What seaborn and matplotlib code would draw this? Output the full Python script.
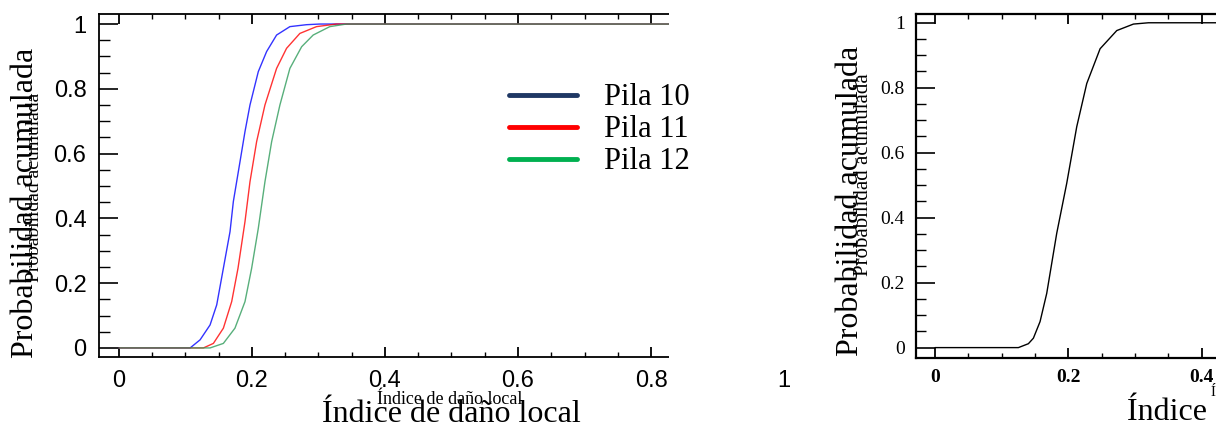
import matplotlib
matplotlib.use("Agg")
import matplotlib.pyplot as plt
from matplotlib.patches import Rectangle
from matplotlib.ticker import MultipleLocator
import seaborn as sns
import pandas as pd

# --- data (cumulative probability vs damage index) ---
x_pila10 = [0.0, 0.107, 0.122, 0.137, 0.147, 0.157, 0.167, 0.172, 0.182, 0.1895, 0.197,
            0.2095, 0.222, 0.237, 0.257, 0.282, 0.302, 1.0]
y_pila10 = [0.0, 0.0, 0.025, 0.071, 0.133, 0.246, 0.359, 0.452, 0.575, 0.668, 0.75,
            0.853, 0.915, 0.966, 0.992, 0.998, 1.0, 1.0]

x_pila11 = [0.0, 0.127, 0.142, 0.157, 0.1695, 0.179, 0.1895, 0.197, 0.207, 0.2195, 0.237,
            0.252, 0.272, 0.297, 0.327, 1.0]
y_pila11 = [0.0, 0.0, 0.014, 0.061, 0.143, 0.246, 0.39, 0.513, 0.637, 0.75, 0.863,
            0.925, 0.971, 0.992, 1.0, 1.0]

x_pila12 = [0.0, 0.137, 0.157, 0.1744, 0.1895, 0.1995, 0.2095, 0.2195, 0.2296, 0.242, 0.257,
            0.2747, 0.292, 0.317, 0.342, 1.0]
y_pila12 = [0.0, 0.0, 0.014, 0.061, 0.143, 0.246, 0.369, 0.513, 0.637, 0.75, 0.863,
            0.93, 0.966, 0.992, 1.0, 1.0]

x_total = [0.0, 0.125, 0.14, 0.1475, 0.1575, 0.1675, 0.1825, 0.1975, 0.2125, 0.2275, 0.2475,
           0.2725, 0.2975, 0.32, 1.0]
y_total = [0.0, 0.0, 0.012, 0.029, 0.08, 0.167, 0.352, 0.506, 0.68, 0.813, 0.92,
           0.976, 0.996, 1.0, 1.0]

pilas = ["Pila 10", "Pila 11", "Pila 12"]
curve_colors = ["#0000FF", "#FF0000", "#2E9B5A"]
legend_colors = ["#1F3864", "#FF0000", "#00B050"]

x_label = "Índice de daño local"
y_label = "Probabilidad acumulada"

df = pd.concat([
    pd.DataFrame({"x": x_pila10, "y": y_pila10, "Pila": pilas[0]}),
    pd.DataFrame({"x": x_pila11, "y": y_pila11, "Pila": pilas[1]}),
    pd.DataFrame({"x": x_pila12, "y": y_pila12, "Pila": pilas[2]}),
])
df_total = pd.DataFrame({"x": x_total, "y": y_total})

sns.set_style("ticks")
plt.rcParams["font.family"] = ["Liberation Serif", "DejaVu Serif"]
plt.rcParams.update({"axes.edgecolor": "black", "xtick.color": "black",
                     "ytick.color": "black", "text.color": "black",
                     "axes.labelcolor": "black"})

W, H = 1216, 436
fig = plt.figure(figsize=(W / 100, H / 100), dpi=100)

# --- left panel ---
ax = fig.add_axes([99 / W, 1 - 357 / H, 705 / W, 343 / H])
sns.lineplot(data=df, x="x", y="y", hue="Pila", palette=curve_colors,
             linewidth=1.0, alpha=0.8, ax=ax, sort=False, estimator=None)
ax.set_xlim(-0.030, 1.030)
ax.set_ylim(-0.028, 1.031)
ax.xaxis.set_major_locator(MultipleLocator(0.2))
ax.xaxis.set_minor_locator(MultipleLocator(0.05))
ax.yaxis.set_major_locator(MultipleLocator(0.2))
ax.yaxis.set_minor_locator(MultipleLocator(0.05))
ax.xaxis.set_major_formatter(lambda v, p: f"{v:g}")
ax.yaxis.set_major_formatter(lambda v, p: f"{v:g}")
ax.tick_params(axis="x", which="major", direction="in", length=7, width=1.3,
               top=True, pad=9, labelsize=17, labelfontfamily="Liberation Sans")
ax.tick_params(axis="x", which="minor", direction="in", length=3.5, width=1.0, top=True)
ax.tick_params(axis="y", which="major", direction="in", length=14, width=1.2,
               pad=9, labelsize=17, labelfontfamily="Liberation Sans")
ax.tick_params(axis="y", which="minor", direction="in", length=8, width=1.0)
for s in ax.spines.values():
    s.set_linewidth(1.3)
ax.set_xlabel(x_label, fontsize=23)
ax.xaxis.set_label_coords(0.5, -0.125)
ax.set_ylabel(y_label, fontsize=23)
ax.yaxis.set_label_coords(-0.084, 0.45)

# white strip that hides the right end of the left panel (legend stays on top)
ax.add_patch(Rectangle(((669 - 99) / 705, -0.027), 0.3, 1.2, transform=ax.transAxes,
                       facecolor="white", edgecolor="none", zorder=4, clip_on=False))

leg = ax.legend(frameon=False, fontsize=22, handlelength=2.2, handletextpad=0.9,
                labelspacing=0.1, loc="upper left", bbox_to_anchor=(0.543, 0.878))
leg.set_zorder(6)
for h, c in zip(leg.legend_handles, legend_colors):
    h.set_color(c)
    h.set_alpha(1)
    h.set_linewidth(3.5)

# small duplicated labels
fig.text(35 / W, 1 - 187 / H, y_label, rotation=90, ha="center", va="center", fontsize=14)
fig.text(450 / W, 1 - 399 / H, x_label, ha="center", va="center", fontsize=13)

# --- right panel (cut by the figure edge) ---
ax2 = fig.add_axes([916 / W, 1 - 358 / H, 686 / W, 344 / H])
sns.lineplot(data=df_total, x="x", y="y", color="black", linewidth=1.0,
             ax=ax2, sort=False, estimator=None)
ax2.set_xlim(-0.0285, 1.0)
ax2.set_ylim(-0.032, 1.027)
ax2.xaxis.set_major_locator(MultipleLocator(0.2))
ax2.xaxis.set_minor_locator(MultipleLocator(0.05))
ax2.yaxis.set_major_locator(MultipleLocator(0.2))
ax2.yaxis.set_minor_locator(MultipleLocator(0.05))
ax2.xaxis.set_major_formatter(lambda v, p: f"{v:g}")
ax2.yaxis.set_major_formatter(lambda v, p: f"{v:g}")
ax2.tick_params(axis="x", which="major", direction="in", length=7, width=1.3,
                top=True, pad=8, labelsize=14)
ax2.tick_params(axis="x", which="minor", direction="in", length=3.5, width=1.0, top=True)
ax2.tick_params(axis="y", which="major", direction="in", length=14, width=1.2,
                pad=8, labelsize=14)
ax2.tick_params(axis="y", which="minor", direction="in", length=7, width=1.0)
for t in ax2.get_xticklabels():
    t.set_fontweight("bold")
for s in ax2.spines.values():
    s.set_linewidth(1.6)
ax2.set_xlabel("")
ax2.set_ylabel("")

fig.text(851 / W, 1 - 201 / H, y_label, rotation=90, ha="center", va="center", fontsize=23)
fig.text(864 / W, 1 - 175 / H, y_label, rotation=90, ha="center", va="center", fontsize=15)
fig.text(1127 / W, 1 - 412 / H, x_label, ha="left", va="center", fontsize=23)
fig.text(1211 / W, 1 - 392 / H, x_label, ha="left", va="center", fontsize=11)

fig.savefig("out.png", dpi=100)
